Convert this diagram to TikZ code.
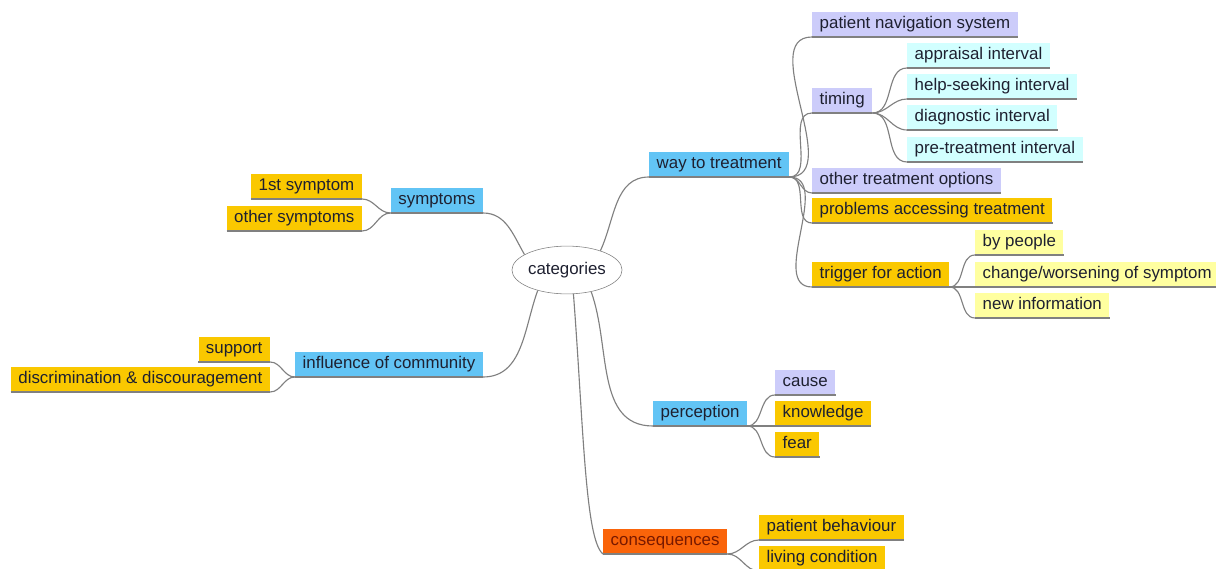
\documentclass[tikz,border=0pt]{standalone}
\usepackage{fontspec}
\setmainfont{Liberation Sans}
\usetikzlibrary{shapes.geometric}
\definecolor{blueone}{RGB}{98,196,245}
\definecolor{lavender}{RGB}{204,204,250}
\definecolor{cyanlight}{RGB}{210,255,255}
\definecolor{gold}{RGB}{250,200,0}
\definecolor{yellowlight}{RGB}{255,255,160}
\definecolor{orangedark}{RGB}{250,100,10}
\definecolor{linegray}{RGB}{128,128,128}
\definecolor{txt}{RGB}{30,32,48}
\tikzset{
 item/.style={inner xsep=5.3pt, inner ysep=0pt, minimum height=17.7pt,
  text height=9pt, text depth=2.6pt, font=\fontsize{12}{14}\selectfont, text=txt,
  append after command={(\tikzlastnode.south west) edge[linegray, line width=0.8pt] (\tikzlastnode.south east)}},
 main/.style={item, fill=blueone},
 lila/.style={item, fill=lavender},
 sky/.style={item, fill=cyanlight},
 amber/.style={item, fill=gold},
 pale/.style={item, fill=yellowlight},
 hot/.style={item, fill=orangedark, text={rgb,255:red,120;green,25;blue,0}},
 link/.style={draw=linegray, line width=0.8pt},
}
\begin{document}
\begin{tikzpicture}[x=0.025cm, y=0.025cm]
 \fill[white] (0,0) rectangle (1216,-569);
 \useasboundingbox (0,0) rectangle (1216,-569);
 %
 \node[ellipse, draw=linegray, fill=white, inner sep=0pt, minimum width=73.7pt, minimum height=34pt,
  font=\fontsize{12}{14}\selectfont, text=txt] (cat) at (567,-270) {categories};
 %
 \node[main, anchor=south west] (way) at (649,-177) {way to treatment};
 \node[lila, anchor=south west] (nav) at (812,-37) {patient navigation system};
 \node[lila, anchor=south west] (timing) at (812,-113) {timing};
 \node[sky, anchor=south west] (appr) at (907,-68) {appraisal interval};
 \node[sky, anchor=south west] (help) at (907,-99) {help-seeking interval};
 \node[sky, anchor=south west] (diag) at (907,-130) {diagnostic interval};
 \node[sky, anchor=south west] (pret) at (907,-162) {pre-treatment interval};
 \node[lila, anchor=south west] (other) at (812,-193) {other treatment options};
 \node[amber, anchor=south west] (probl) at (812,-223) {problems accessing treatment};
 \node[amber, anchor=south west] (trig) at (812,-287) {trigger for action};
 \node[pale, anchor=south west] (people) at (975,-255) {by people};
 \node[pale, anchor=south west] (change) at (975,-287) {change/worsening of symptom};
 \node[pale, anchor=south west] (newinfo) at (975,-318) {new information};
 %
 \node[main, anchor=south west] (perc) at (653,-426) {perception};
 \node[lila, anchor=south west] (cause) at (775,-395) {cause};
 \node[amber, anchor=south west] (know) at (775,-426) {knowledge};
 \node[amber, anchor=south west] (fear) at (775,-457) {fear};
 %
 \node[hot, anchor=south west] (cons) at (603,-554) {consequences};
 \node[amber, anchor=south west] (behav) at (759,-540) {patient behaviour};
 \node[amber, anchor=south west] (living) at (759,-571) {living condition};
 %
 \node[main, anchor=south east] (symp) at (483,-213) {symptoms};
 \node[amber, anchor=south east] (first) at (362,-199) {1st symptom};
 \node[amber, anchor=south east] (othsymp) at (362,-231) {other symptoms};
 %
 \node[main, anchor=south east] (infl) at (483,-377) {influence of community};
 \node[amber, anchor=south east] (supp) at (270,-362) {support};
 \node[amber, anchor=south east] (discr) at (270,-392) {discrimination \& discouragement};
 %
 \draw[link] (cat.30) to[out=65,in=180] (way.south west);
 \draw[link] (cat.160) to[out=120,in=0] (symp.south east);
 \draw[link] (cat.215) to[out=250,in=0] (infl.south east);
 \draw[link] (cat.318) to[out=290,in=180] (perc.south west);
 \draw[link] (cat.285) .. controls +(10,-130) and +(-18,14) .. (cons.south west);
 %
 \draw[link] (way.south east) to[out=0,in=180] (nav.south west);
 \draw[link] (way.south east) to[out=0,in=180] (timing.south west);
 \draw[link] (way.south east) to[out=0,in=180] (other.south west);
 \draw[link] (way.south east) to[out=0,in=180] (probl.south west);
 \draw[link] (way.south east) to[out=0,in=180] (trig.south west);
 %
 \draw[link] (timing.south east) to[out=0,in=180] (appr.south west);
 \draw[link] (timing.south east) to[out=0,in=180] (help.south west);
 \draw[link] (timing.south east) to[out=0,in=180] (diag.south west);
 \draw[link] (timing.south east) to[out=0,in=180] (pret.south west);
 %
 \draw[link] (trig.south east) to[out=0,in=180] (people.south west);
 \draw[link] (trig.south east) to[out=0,in=180] (change.south west);
 \draw[link] (trig.south east) to[out=0,in=180] (newinfo.south west);
 %
 \draw[link] (perc.south east) to[out=0,in=180] (cause.south west);
 \draw[link] (perc.south east) to[out=0,in=180] (know.south west);
 \draw[link] (perc.south east) to[out=0,in=180] (fear.south west);
 %
 \draw[link] (cons.south east) to[out=0,in=180] (behav.south west);
 \draw[link] (cons.south east) to[out=0,in=180] (living.south west);
 %
 \draw[link] (symp.south west) to[out=180,in=0] (first.south east);
 \draw[link] (symp.south west) to[out=180,in=0] (othsymp.south east);
 \draw[link] (infl.south west) to[out=180,in=0] (supp.south east);
 \draw[link] (infl.south west) to[out=180,in=0] (discr.south east);
\end{tikzpicture}
\end{document}
